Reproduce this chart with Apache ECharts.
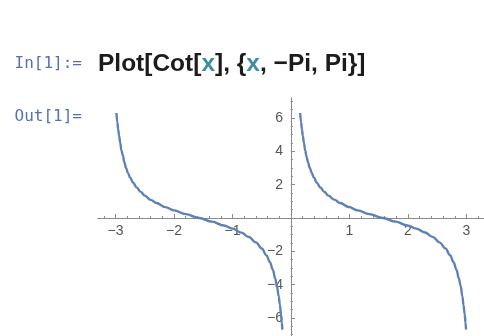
<!DOCTYPE html>
<html>
<head>
<meta charset="utf-8">
<script src="https://cdn.jsdelivr.net/npm/echarts@6/dist/echarts.min.js"></script>
<style>
  html, body { margin: 0; padding: 0; background: #fff; }
</style>
</head>
<body>
<div id="myChart" style="width: 484px; height: 336px;"></div>
<script>
// points, left branch (x < 0) and right branch (x > 0)
var leftX = [-2.985, -2.97, -2.955, -2.94, -2.92, -2.9, -2.875, -2.85, -2.82, -2.79, -2.75, -2.7, -2.64, -2.57,
  -2.5, -2.4, -2.3, -2.15, -2.0, -1.8, -1.57, -1.35, -1.15, -1.0, -0.85, -0.72, -0.6, -0.5, -0.42, -0.36,
  -0.31, -0.27, -0.24, -0.21, -0.19, -0.17, -0.158, -0.148];
var leftY = [6.3, 5.76, 5.32, 4.95, 4.52, 4.06, 3.75, 3.35, 3.0, 2.71, 2.42, 2.12, 1.84, 1.57,
  1.34, 1.09, 0.9, 0.65, 0.46, 0.23, 0.0, -0.22, -0.45, -0.64, -0.88, -1.14, -1.46, -1.83, -2.24, -2.65,
  -3.11, -3.63, -4.09, -4.7, -5.2, -5.82, -6.27, -6.7];
var rightX = [0.157, 0.172, 0.187, 0.202, 0.222, 0.242, 0.267, 0.292, 0.322, 0.352, 0.392, 0.442, 0.502, 0.572,
  0.64, 0.74, 0.84, 0.99, 1.14, 1.34, 1.57, 1.79, 1.99, 2.14, 2.29, 2.42, 2.54, 2.64, 2.72, 2.78,
  2.83, 2.87, 2.9, 2.93, 2.95, 2.97, 2.983, 2.993];
var rightY = [6.3, 5.76, 5.31, 4.93, 4.5, 4.05, 3.67, 3.34, 3.0, 2.72, 2.42, 2.11, 1.83, 1.56,
  1.34, 1.1, 0.9, 0.66, 0.46, 0.23, 0.0, -0.22, -0.45, -0.64, -0.87, -1.13, -1.46, -1.82, -2.23, -2.65,
  -3.11, -3.63, -4.06, -4.7, -5.23, -5.78, -6.27, -6.69];

// tick labels
var xTicks = [-3, -2, -1, 1, 2, 3];
var yTicks = [-6, -4, -2, 2, 4, 6];

var xRange = [-3.3, 3.3];
var yRange = [-7.2, 7.2];

// minor ticks: 0.2 on x, 0.5 on y
var xMinor = [];
for (var i = -16; i <= 16; i++) {
  if (i % 5 !== 0) xMinor.push(i / 5);
}
var yMinor = [];
for (var j = -14; j <= 14; j++) {
  if (j % 4 !== 0) yMinor.push(j / 2);
}

function zip(xs, ys) {
  var out = [];
  for (var k = 0; k < xs.length; k++) out.push([xs[k], ys[k]]);
  return out;
}

function minus(v) {
  return String(v).replace('-', '\u2212');
}

var axisColor = '#8a8a8a';
var labelColor = '#555';
var curveColor = '#5e81b5';
var gridBox = { left: 98, right: 0, top: 98, bottom: -2 };

function xAxisDef(ticks, len, labels) {
  return {
    type: 'value',
    min: xRange[0],
    max: xRange[1],
    position: 'bottom',
    offset: 0,
    axisLine: { onZero: false, lineStyle: { color: axisColor, width: 1 } },
    axisTick: { inside: true, length: len, customValues: ticks, lineStyle: { color: axisColor } },
    axisLabel: labels ? {
      customValues: ticks,
      formatter: minus,
      color: labelColor,
      fontSize: 14,
      fontFamily: 'Liberation Sans',
      margin: 6
    } : { show: false },
    splitLine: { show: false }
  };
}

function yAxisDef(ticks, len, labels) {
  return {
    type: 'value',
    min: yRange[0],
    max: yRange[1],
    position: 'left',
    offset: 0,
    axisLine: { onZero: false, lineStyle: { color: axisColor, width: 1 } },
    axisTick: { inside: true, length: len, customValues: ticks, lineStyle: { color: axisColor } },
    axisLabel: labels ? {
      customValues: ticks,
      formatter: minus,
      color: labelColor,
      fontSize: 14,
      fontFamily: 'Liberation Sans',
      margin: 8
    } : { show: false },
    splitLine: { show: false }
  };
}

function curve(name, xs, ys) {
  return {
    name: name,
    type: 'line',
    data: zip(xs, ys),
    showSymbol: false,
    smooth: 0.4,
    smoothMonotone: 'x',
    lineStyle: { color: curveColor, width: 2.4 }
  };
}

let myChart = echarts.init(document.getElementById('myChart'));

let option = {
  animation: false,
  grid: {
    left: gridBox.left,
    right: gridBox.right,
    top: gridBox.top,
    bottom: gridBox.bottom,
    containLabel: false,
    outerBoundsMode: 'none'
  },
  xAxis: [xAxisDef(xTicks, 4, true), xAxisDef(xMinor, 2, false)],
  yAxis: [yAxisDef(yTicks, 4, true), yAxisDef(yMinor, 2, false)],
  graphic: [
    {
      type: 'text',
      x: 82,
      y: 64,
      style: {
        text: 'In[1]:=',
        fill: '#5571b5',
        fontSize: 16,
        fontFamily: 'DejaVu Sans Mono',
        align: 'right',
        verticalAlign: 'middle'
      }
    },
    {
      type: 'text',
      x: 82,
      y: 117,
      style: {
        text: 'Out[1]=',
        fill: '#5571b5',
        fontSize: 16,
        fontFamily: 'DejaVu Sans Mono',
        align: 'right',
        verticalAlign: 'middle'
      }
    },
    {
      type: 'text',
      x: 98,
      y: 64,
      style: {
        text: 'Plot[Cot[{x|x}], {{x|x}, \u2212Pi, Pi}]',
        fill: '#1c1c1c',
        fontSize: 24.5,
        fontWeight: 'bold',
        fontFamily: 'Liberation Sans',
        verticalAlign: 'middle',
        rich: {
          x: { fill: '#3b8fa0', fontSize: 24.5, fontWeight: 'bold', fontFamily: 'Liberation Sans' }
        }
      }
    }
  ],
  series: [
    curve('left', leftX, leftY),
    curve('right', rightX, rightY)
  ]
};

myChart.setOption(option);

// move the axes to cross at the origin: offset from the grid edge to the zero pixel
var zero = myChart.convertToPixel({ xAxisIndex: 0, yAxisIndex: 0 }, [0, 0]);
var rect = myChart.getModel().getComponent('grid', 0).coordinateSystem.getRect();
var dx = -(zero[0] - rect.x);
var dy = -((rect.y + rect.height) - zero[1]);
myChart.setOption({
  xAxis: [{ offset: dy }, { offset: dy }],
  yAxis: [{ offset: dx }, { offset: dx }]
});
</script>
</body>
</html>
